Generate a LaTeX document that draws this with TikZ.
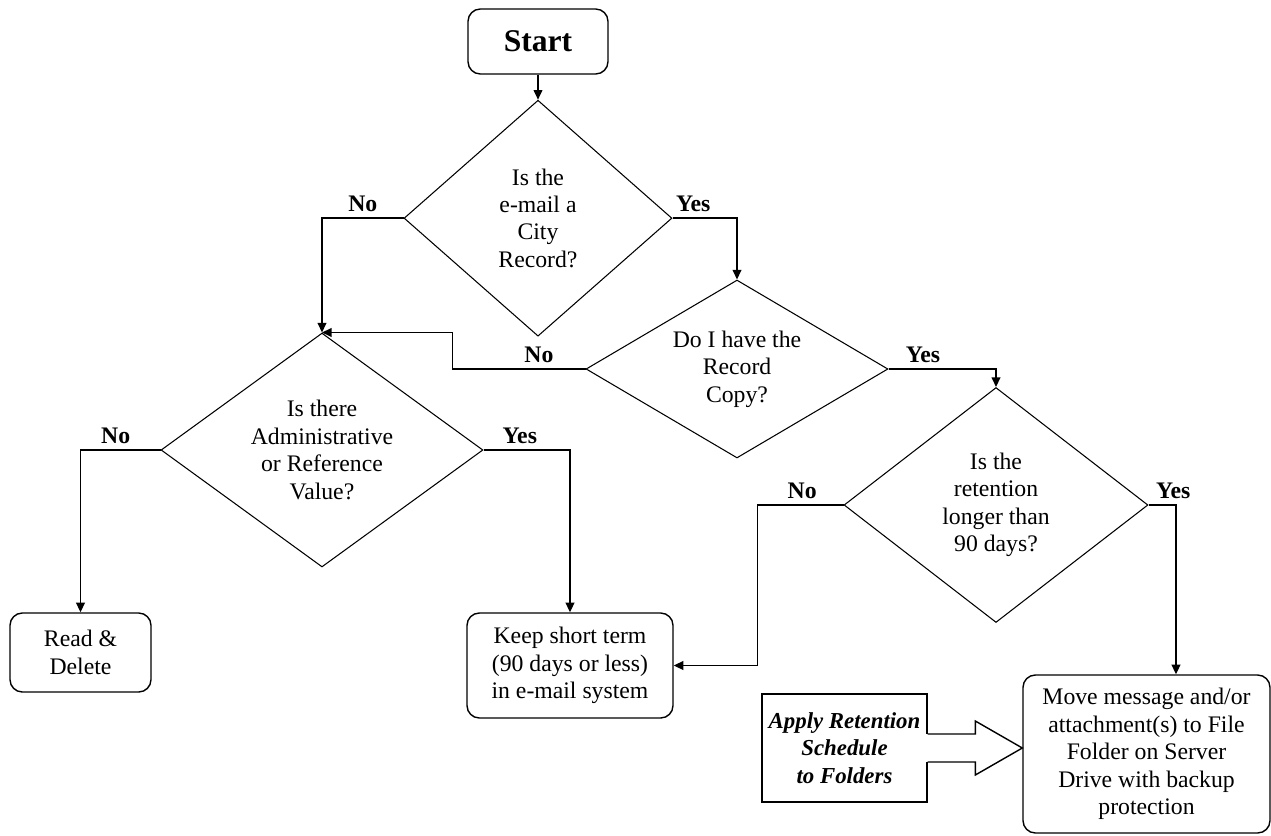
\documentclass[tikz,border=0pt]{standalone}
\usepackage{fontspec}
\setmainfont{Liberation Serif}
\usetikzlibrary{positioning,shapes.geometric,arrows.meta}

\begin{document}
\begin{tikzpicture}[x=0.02cm, y=-0.02cm, >={Triangle[length=5.5pt,width=5pt]},
font=\fontsize{13.5}{15.6}\selectfont,
terminal/.style={rectangle, rounded corners=7pt, draw=black, thick, align=center, inner sep=0pt},
decision/.style={diamond, draw=black, semithick, align=center, inner sep=0pt},
schedule/.style={rectangle, draw=black, thick, align=center, inner sep=0pt, font=\fontsize{13}{15.6}\selectfont\bfseries\itshape},
answer/.style={font=\fontsize{13.5}{15.6}\selectfont\bfseries},
flow/.style={->, thick}
]
\useasboundingbox (0,0) rectangle (1271,835);

\node[terminal, minimum width=2.8cm, minimum height=1.3cm, font=\fontsize{18}{20}\selectfont\bfseries](start) at (538,41.5){Start};

\node[decision, minimum width=5.36cm, minimum height=4.72cm, aspect=1.14](city_rec)[below=0.5cm of start]{Is the\\e-mail a\\City\\Record?};
\node[decision, minimum width=6.04cm, minimum height=3.56cm, aspect=1.7](copy_rec) at (737,369){Do I have the\\Record\\Copy?};
\node[decision, minimum width=6.44cm, minimum height=4.68cm, aspect=1.38](admin_val) at (322,450){Is there\\Administrative\\or Reference\\Value?};
\node[decision, minimum width=6.08cm, minimum height=4.7cm, aspect=1.29](retain_90) at (996,505){Is the\\retention\\longer than\\90 days?};

\node[terminal, minimum width=2.82cm, minimum height=1.58cm](read_del) at (80.5,652.5){Read \&\\Delete};
\node[terminal, minimum width=4.12cm, minimum height=2.1cm](keep_short) at (570,665.5){Keep short term\\(90 days or less)\\in e-mail system};
\node[terminal, minimum width=4.94cm, minimum height=3.16cm](move_msg) at (1146.5,754){Move message and/or\\attachment(s) to File\\Folder on Server\\Drive with backup\\protection};
\node[schedule, minimum width=3.3cm, minimum height=2.16cm](apply_sched) at (844.5,748){Apply Retention\\Schedule\\to Folders};

\draw[flow] (start) -- (city_rec);
\draw[flow] (city_rec.west) -| node[answer, pos=.25, above]{No} (admin_val.north);
\draw[flow] (city_rec.east) -| node[answer, pos=.16, above]{Yes} (copy_rec.north);
\draw[flow] (copy_rec.west) -- node[answer, pos=.35, above]{No} ++(-133,0) |- (admin_val.north);
\draw[flow] (copy_rec.east) -| node[answer, pos=.16, above]{Yes} (retain_90.north);
\draw[flow] (admin_val.west) -| node[answer, pos=.28, above]{No} (read_del.north);
\draw[flow] (admin_val.east) -| node[answer, pos=.21, above]{Yes} (keep_short.north);
\draw[flow] (retain_90.west) -- node[answer, pos=.48, above]{No} ++(-86,0) |- (keep_short.east);
\draw[flow] (retain_90.east) -| node[answer, pos=.45, above]{Yes} ([xshift=0.59cm]move_msg.north);

% open block arrow from the schedule box
\coordinate (arr_tail) at (apply_sched.east);
\coordinate (arr_tip) at (move_msg.west |- apply_sched.east);
\fill[white] ([xshift=-1.2pt, yshift=0.28cm]arr_tail) rectangle ([yshift=-0.28cm]arr_tail);
\draw[thick] ([yshift=0.28cm]arr_tail) -- ([xshift=-0.94cm, yshift=0.28cm]arr_tip)
  -- ([xshift=-0.94cm, yshift=0.54cm]arr_tip) -- (arr_tip)
  -- ([xshift=-0.94cm, yshift=-0.54cm]arr_tip) -- ([xshift=-0.94cm, yshift=-0.28cm]arr_tip)
  -- ([yshift=-0.28cm]arr_tail);
\end{tikzpicture}
\end{document}
